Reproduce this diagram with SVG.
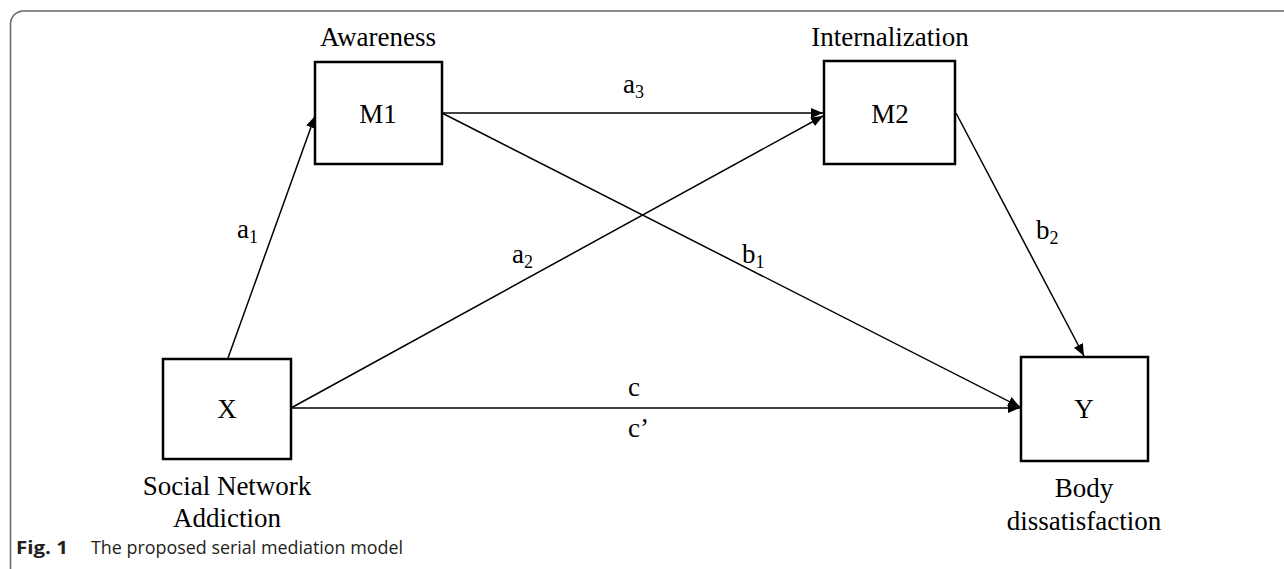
<svg xmlns="http://www.w3.org/2000/svg" width="1284" height="569" viewBox="0 0 1284 569">
<style>
.box{fill:#fff;stroke:#000;stroke-width:2.5}
.t{font-family:"Liberation Serif","Times New Roman",serif;font-size:27px;fill:#000}
.c{text-anchor:middle}
.sub{font-size:18px}
.ln{stroke:#000;stroke-width:1.5;fill:none;marker-end:url(#ah)}
.cap{font-family:"Open Sans","Noto Sans",sans-serif;font-size:18px;fill:#231f20}
</style>
<defs>
<marker id="ah" markerUnits="userSpaceOnUse" markerWidth="12" markerHeight="10" refX="12" refY="5" orient="auto">
<path d="M0,0 L12,5 L0,10 z" fill="#000"/>
</marker>
</defs>
<rect width="1284" height="569" fill="#fff"/>
<path d="M10.5 569 V24 A13 13 0 0 1 23.5 11 H1284" fill="none" stroke="#666" stroke-width="1.5"/>
<g id="connectors">
<line class="ln" x1="228" y1="358" x2="315" y2="116"/>
<line class="ln" x1="442" y1="113" x2="823" y2="113"/>
<line class="ln" x1="291" y1="408" x2="823" y2="116"/>
<line class="ln" x1="442" y1="113" x2="1020" y2="407"/>
<line class="ln" x1="956" y1="113" x2="1084" y2="356"/>
<line class="ln" x1="291" y1="408" x2="1020" y2="408"/>
<text class="t" x="237" y="238">a<tspan class="sub" dy="5">1</tspan></text>
<text class="t" x="512" y="263">a<tspan class="sub" dy="5">2</tspan></text>
<text class="t" x="623" y="93">a<tspan class="sub" dy="5">3</tspan></text>
<text class="t" x="742" y="263">b<tspan class="sub" dy="5">1</tspan></text>
<text class="t" x="1036" y="239">b<tspan class="sub" dy="5">2</tspan></text>
<text class="t" x="628" y="396">c</text>
<text class="t" x="628" y="437">c’</text>
</g>
<g id="node-M1">
<rect class="box" x="315" y="62" width="127" height="102"/>
<text class="t c" x="378" y="123">M1</text>
<text class="t c" x="378" y="46">Awareness</text>
</g>
<g id="node-M2">
<rect class="box" x="824" y="61" width="131" height="103"/>
<text class="t c" x="890" y="123">M2</text>
<text class="t c" x="890" y="46">Internalization</text>
</g>
<g id="node-X">
<rect class="box" x="163" y="359" width="128" height="100"/>
<text class="t c" x="227" y="418">X</text>
<text class="t c" x="227" y="495">Social Network</text>
<text class="t c" x="227" y="527">Addiction</text>
</g>
<g id="node-Y">
<rect class="box" x="1021" y="357" width="127" height="104"/>
<text class="t c" x="1084" y="418">Y</text>
<text class="t c" x="1084" y="497">Body</text>
<text class="t c" x="1084" y="530">dissatisfaction</text>
</g>
<text class="cap" x="16" y="554" font-weight="bold" textLength="52" lengthAdjust="spacingAndGlyphs">Fig. 1</text>
<text class="cap" x="91" y="554" textLength="312" lengthAdjust="spacingAndGlyphs">The proposed serial mediation model</text>
</svg>
